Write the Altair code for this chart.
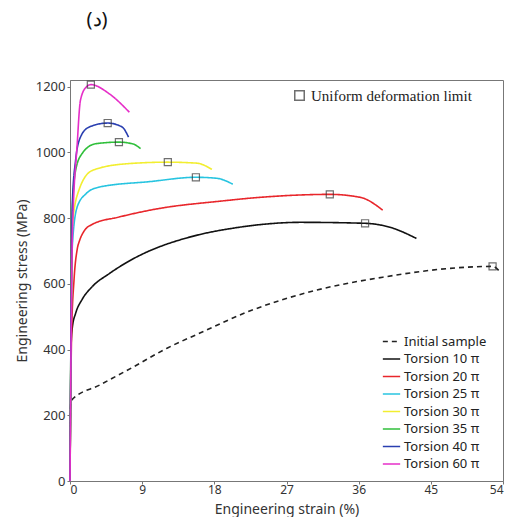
import altair as alt
import pandas as pd

series_names = ["Initial sample", "Torsion 10 π", "Torsion 20 π", "Torsion 25 π",
                "Torsion 30 π", "Torsion 35 π", "Torsion 40 π", "Torsion 60 π"]
series_colors = ["#222222", "#111111", "#e8262b", "#27c4e0", "#f2ee30", "#2fbf3a", "#2a3fb0", "#e62ec8"]

init_x = [0, 0.05, 0.2, 3.7, 7.9, 12.1, 16.2, 22.4, 30.8, 39.0, 47.4, 52.7, 53.5]
init_y = [0, 225, 246, 292, 347, 404, 450, 517, 581, 620, 647, 653, 640]

t10_x = [0, 0.15, 0.3, 0.7, 1.5, 2.8, 4.9, 7.0, 9.0, 11.1, 13.5, 16.2, 20.3, 23.7, 28.7, 36.8, 39.9, 43.2]
t10_y = [0, 420, 469, 510, 552, 592, 631, 664, 690, 712, 732, 750, 769, 780, 787, 784, 772, 738]

t20_x = [0, 0.2, 0.5, 0.9, 1.2, 1.75, 2.8, 6.1, 11.1, 18.6, 23.7, 32.4, 36.2, 39.0]
t20_y = [0, 450, 611, 705, 732, 760, 781, 803, 829, 851, 863, 872, 863, 824]

t25_x = [0, 0.3, 0.9, 2.0, 3.6, 10.0, 15.7, 18.3, 20.3]
t25_y = [0, 720, 834, 874, 894, 911, 924, 921, 903]

t30_x = [0, 0.3, 1.1, 2.8, 7.0, 12.2, 15.8, 17.7]
t30_y = [0, 780, 884, 945, 965, 970, 967, 948]

t35_x = [0, 0.3, 0.7, 1.5, 3.2, 6.1, 7.9, 8.8]
t35_y = [0, 830, 945, 996, 1026, 1031, 1025, 1011]

t40_x = [0, 0.3, 0.7, 1.3, 2.4, 4.7, 6.5, 7.3]
t40_y = [0, 850, 976, 1046, 1077, 1089, 1077, 1046]

t60_x = [0, 0.3, 0.9, 1.3, 2.0, 2.6, 4.9, 7.4]
t60_y = [0, 750, 1026, 1158, 1198, 1206, 1178, 1122]

marker_x = [52.7, 36.8, 32.4, 15.7, 12.2, 6.1, 4.7, 2.6]
marker_y = [653, 784, 872, 924, 970, 1031, 1089, 1206]

x_ticks = [0, 9, 18, 27, 36, 45, 54]
y_ticks = [0, 200, 400, 600, 800, 1000, 1200]

all_x = [init_x, t10_x, t20_x, t25_x, t30_x, t35_x, t40_x, t60_x]
all_y = [init_y, t10_y, t20_y, t25_y, t30_y, t35_y, t40_y, t60_y]

rows = []
for name, xs, ys in zip(series_names, all_x, all_y):
    for i, (a, b) in enumerate(zip(xs, ys)):
        rows.append({"series": name, "strain": a, "stress": b, "order": i})
df = pd.DataFrame(rows)

mdf = pd.DataFrame({"strain": marker_x, "stress": marker_y,
                    "kind": ["Uniform deformation limit"] * len(marker_x)})

FONT = "Noto Sans"

xscale = alt.Scale(domain=[0, 54], nice=False, zero=False)
yscale = alt.Scale(domain=[0, 1220], nice=False)

dashes = [[5, 4]] + [[1, 0]] * 7

leg = dict(title=None, orient="none", legendX=312, legendY=252,
           symbolType="stroke", symbolSize=300, symbolStrokeWidth=1.6,
           labelFontSize=13, labelFont=FONT, labelColor="#222",
           rowPadding=0.5, labelOffset=3, labelLimit=200)

lines = alt.Chart(df).mark_line(strokeWidth=1.6, interpolate="monotone").encode(
    x=alt.X("strain:Q", scale=xscale,
            axis=alt.Axis(values=x_ticks, title="Engineering strain (%)", grid=False,
                          tickSize=3, labelFontSize=12, titleFontSize=14, labelFont=FONT,
                          titleFont=FONT, labelColor="#333", titleColor="#333",
                          titleFontWeight="normal", domainColor="#777", tickColor="#777",
                          labelPadding=0, titleY=32, titleBaseline="alphabetic")),
    y=alt.Y("stress:Q", scale=yscale,
            axis=alt.Axis(values=y_ticks, title="Engineering stress (MPa)", grid=False,
                          format="d",
                          tickSize=3, labelFontSize=13, titleFontSize=14, labelFont=FONT,
                          titleFont=FONT, labelColor="#333", titleColor="#333",
                          titleFontWeight="normal", domainColor="#777", tickColor="#777",
                          titlePadding=6)),
    color=alt.Color("series:N", scale=alt.Scale(domain=series_names, range=series_colors),
                    legend=alt.Legend(**leg)),
    strokeDash=alt.StrokeDash("series:N", scale=alt.Scale(domain=series_names, range=dashes),
                              legend=alt.Legend(**leg)),
    order="order:Q",
)

markers = alt.Chart(mdf).mark_point(filled=False, size=50, strokeWidth=1.2, color="#333").encode(
    x=alt.X("strain:Q", scale=xscale),
    y=alt.Y("stress:Q", scale=yscale),
    shape=alt.Shape("kind:N", scale=alt.Scale(range=["square"]),
                    legend=alt.Legend(title=None, orient="none", legendX=222, legendY=8,
                                      symbolSize=90, symbolStrokeColor="#333",
                                      symbolFillColor="transparent",
                                      labelFontSize=15, labelFont="Liberation Serif",
                                      labelColor="#222", labelLimit=300)),
)

title = alt.Chart(pd.DataFrame({"t": ["(د)"]})).mark_text(
    fontSize=20, font=FONT, color="#111", align="center"
).encode(text="t:N", x=alt.value(27), y=alt.value(-60))

chart = alt.layer(lines, markers, title).resolve_scale(
    color="independent", shape="independent", strokeDash="independent"
).properties(
    width=433, height=401,
    autosize=alt.AutoSizeParams(type="none"),
    padding={"left": 70, "top": 80, "right": 14, "bottom": 36},
).configure_view(stroke="#777", strokeWidth=1)

chart.save("out.html", embed_options={"renderer": "svg", "actions": False})
